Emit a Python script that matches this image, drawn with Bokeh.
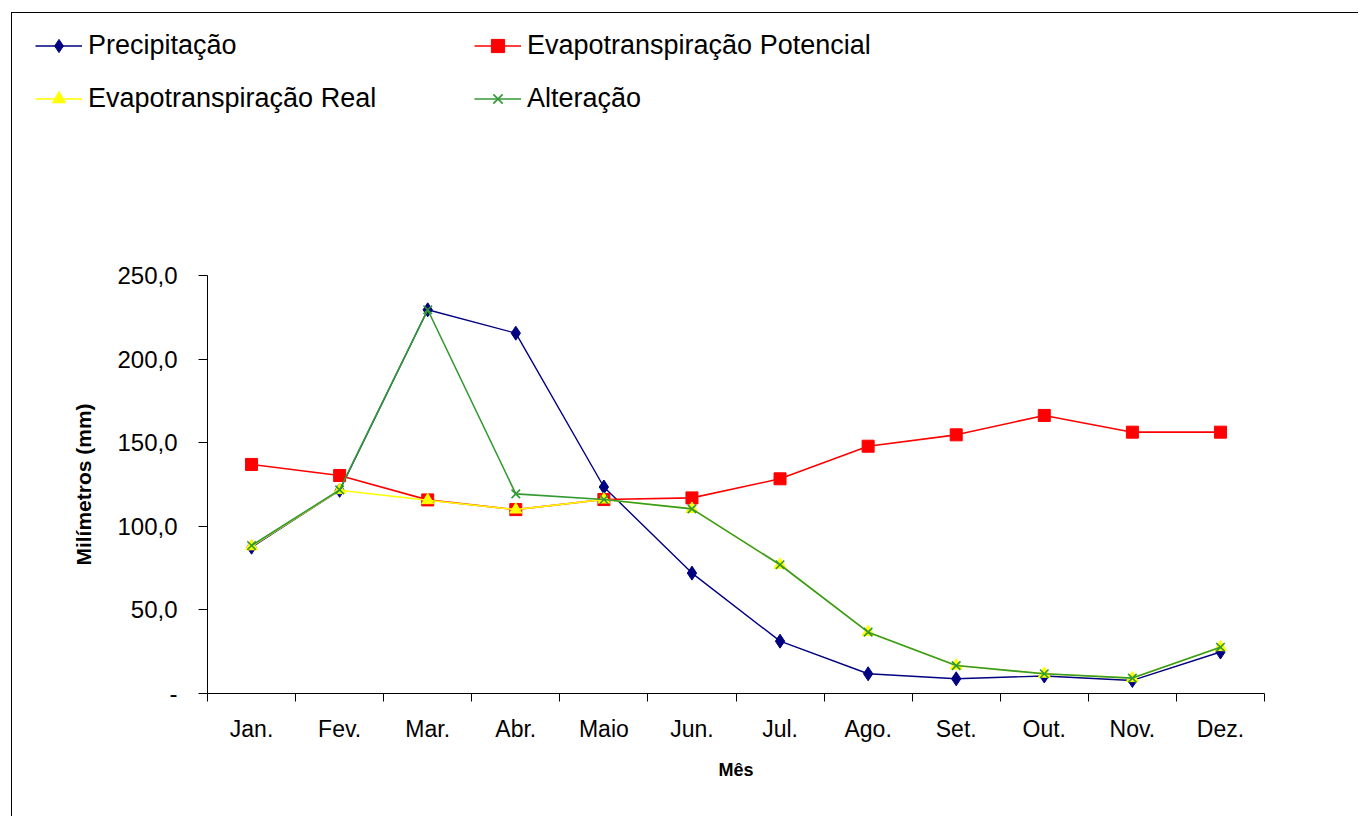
from bokeh.plotting import figure
from bokeh.models import FixedTicker, Legend, LegendItem, Range1d
from bokeh.layouts import column
from bokeh.embed import file_html
from bokeh.resources import INLINE

# ---- data ----
months = ["Jan.", "Fev.", "Mar.", "Abr.", "Maio", "Jun.", "Jul.", "Ago.", "Set.", "Out.", "Nov.", "Dez."]
month_idx = [1, 2, 3, 4, 5, 6, 7, 8, 9, 10, 11, 12]
precipitacao = [87.5, 121.5, 229.5, 215.5, 123.5, 72.0, 31.3, 11.8, 8.8, 10.5, 7.8, 24.8]
evap_potencial = [137.0, 130.4, 115.8, 110.0, 116.0, 117.0, 128.4, 147.9, 154.7, 166.3, 156.3, 156.3]
evap_real = [88.0, 121.6, 115.6, 110.0, 116.0, 110.4, 77.0, 36.7, 16.7, 11.8, 9.2, 27.7]
alteracao = [88.5, 121.8, 229.5, 119.4, 116.0, 110.4, 77.0, 36.7, 16.7, 11.8, 9.2, 27.7]
y_ticks = [0, 50, 100, 150, 200, 250]
y_tick_labels = ["-", "50,0", "100,0", "150,0", "200,0", "250,0"]
series_names = ["Precipitação", "Evapotranspiração Potencial", "Evapotranspiração Real", "Alteração"]

FONT = "Liberation Sans"

styles = [
    dict(color="#000080", marker="diamond", size=14, lw=1.4),
    dict(color="#FF0000", marker="square", size=12, lw=1.6),
    dict(color="#FFFF00", marker="triangle", size=12, lw=1.6),
    dict(color="#339933", marker="x", size=12, lw=1.6),
]
series = [precipitacao, evap_potencial, evap_real, alteracao]


def add_series(fig, vals, st):
    lr = fig.line(month_idx, vals, line_color=st["color"], line_width=st["lw"])
    if st["marker"] == "x":
        sr = fig.scatter(month_idx, vals, marker="x", size=st["size"], line_color=st["color"], line_width=1.6)
    else:
        sr = fig.scatter(month_idx, vals, marker=st["marker"], size=st["size"],
                         fill_color=st["color"], line_color=st["color"])
    return [lr, sr]


# ---- main chart ----
p = figure(
    frame_width=1057, frame_height=418,
    x_range=Range1d(0.5, 12.5), y_range=Range1d(0, 250),
    output_backend="svg", toolbar_location=None,
    min_border_left=195, min_border_top=142, min_border_right=94, min_border_bottom=123,
)
p.frame_align = False
p.outline_line_color = None
p.grid.visible = False
p.background_fill_color = "white"
p.border_fill_color = "white"

xa = p.xaxis[0]
xa.ticker = FixedTicker(ticks=month_idx, minor_ticks=[i + 0.5 for i in range(0, 13)])
xa.major_label_overrides = dict(zip(month_idx, months))
xa.major_tick_line_color = None
xa.major_tick_out = 8
xa.major_tick_in = 0
xa.minor_tick_out = 8
xa.minor_tick_in = 0
xa.minor_tick_line_color = "#000000"
xa.axis_line_color = "#000000"
xa.major_label_text_font = FONT
xa.major_label_text_font_size = "23px"
xa.major_label_text_color = "#000000"
xa.major_label_standoff = 14
xa.axis_label = "Mês"
xa.axis_label_text_font = FONT
xa.axis_label_text_font_style = "bold"
xa.axis_label_text_font_size = "18px"
xa.axis_label_text_color = "#000000"
xa.axis_label_standoff = 15

ya = p.yaxis[0]
ya.ticker = FixedTicker(ticks=y_ticks, minor_ticks=[])
ya.major_label_overrides = dict(zip(y_ticks, y_tick_labels))
ya.major_tick_out = 9
ya.major_tick_in = 0
ya.minor_tick_line_color = None
ya.axis_line_color = "#000000"
ya.major_tick_line_color = "#000000"
ya.major_label_text_font = FONT
ya.major_label_text_font_size = "24px"
ya.major_label_text_color = "#000000"
ya.major_label_standoff = 21
ya.axis_label = "Milímetros (mm)"
ya.axis_label_text_font = FONT
ya.axis_label_text_font_style = "bold"
ya.axis_label_text_font_size = "21px"
ya.axis_label_text_color = "#000000"
ya.axis_label_standoff = 19

for vals, st in zip(series, styles):
    add_series(p, vals, st)

# ---- legend strip above the chart (same series, view range kept off the data) ----
lg = figure(
    width=1346, height=120,
    x_range=Range1d(100, 101), y_range=Range1d(1000, 1001),
    x_axis_location=None, y_axis_location=None,
    output_backend="svg", toolbar_location=None,
    min_border=0,
)
lg.frame_align = False
lg.outline_line_color = None
lg.grid.visible = False
lg.background_fill_color = "white"
lg.border_fill_color = "white"

leg_renderers = [add_series(lg, vals, st) for vals, st in zip(series, styles)]

order = [0, 2, 1, 3]  # column-major: row 1 = Precipitação, ETP ; row 2 = ETR, Alteração
legend = Legend(
    items=[LegendItem(label=series_names[i], renderers=leg_renderers[i]) for i in order],
    location=(23, 18),
    ncols=2,
    label_text_font=FONT,
    label_text_font_size="27px",
    label_text_color="#000000",
    glyph_width=47, glyph_height=33,
    label_standoff=6,
    label_width=366, label_height=33,
    spacing=20, padding=0, margin=0,
    border_line_color=None,
    background_fill_alpha=0,
)
lg.add_layout(legend)

layout = column(lg, p, spacing=0)
layout.margin = (12, 0, 0, 11)
layout.styles = {"border-top": "1px solid #000000", "border-left": "1px solid #000000"}

open("out.html", "w").write(file_html(layout, INLINE))
